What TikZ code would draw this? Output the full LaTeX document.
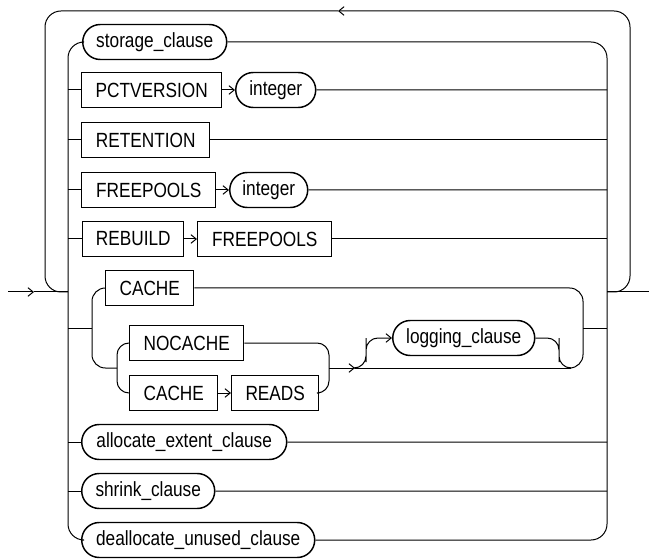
\documentclass[tikz,border=0pt]{standalone}
\usepackage{fontspec}
\setmainfont[FakeStretch=0.84]{Liberation Sans}
\usepackage{tikz}
\usetikzlibrary{arrows.meta, shapes.misc}
\newcommand{\railfont}{\fontsize{15.4}{17}\selectfont}

\begin{document}
\begin{tikzpicture}[
    x=0.75pt, y=-0.75pt,
    kw/.style={
        rectangle,
        draw=black,
        line width=1.1pt,
        inner sep=0pt,
        minimum height=26.25pt,
        anchor=west,
        font=\railfont
    },
    nt/.style={
        kw,
        rounded rectangle
    },
    rail/.style={line width=0.75pt},
    into/.style={-{Straight Barb[length=4pt, width=6.5pt]}}
]
\useasboundingbox (0,0) rectangle (649,559);

% ---------------- Entrada, saida e bucle ----------------
\coordinate (in) at (8,292);
\coordinate (inarr) at (34,292);
\coordinate (L) at (68,292);
\coordinate (R) at (607,292);
\coordinate (out) at (649,292);
\coordinate (loopr) at (630,11);
\coordinate (looparr) at (338,11);
\coordinate (loopl) at (45,11);

\draw[rail, into] (in) -- (inarr);
\draw[rail] (inarr) -- (L);
\draw[rail] (R) -- (out);
\draw[rail, into, rounded corners=12] (R) -| (loopr) -- (looparr);
\draw[rail, rounded corners=12] (looparr) -- (loopl) |- (L);

% ---------------- Opcions ----------------
\node[nt, minimum width=108pt] (stor) at (82,42) {storage\_clause};
\node[kw, minimum width=105pt] (pct) at (81,90) {PCTVERSION};
\node[nt, minimum width=60pt] (int1) at (235,90) {integer};
\node[kw, minimum width=96pt] (ret) at (81,140) {RETENTION};
\node[kw, minimum width=100.5pt] (fp) at (81,190) {FREEPOOLS};
\node[nt, minimum width=58.5pt] (int2) at (229,190) {integer};
\node[kw, minimum width=75.75pt] (reb) at (82,239) {REBUILD};
\node[kw, minimum width=100.5pt] (fp2) at (197,239) {FREEPOOLS};
\node[nt, minimum width=153.75pt] (alloc) at (81,442) {allocate\_extent\_clause};
\node[nt, minimum width=99.75pt] (shrink) at (81,491) {shrink\_clause};
\node[nt, minimum width=174.75pt] (dealloc) at (81,540) {deallocate\_unused\_clause};

\draw[rail, rounded corners=12] (stor.west) -| (L) |- (dealloc.west);
\draw[rail, rounded corners=12] (stor.east) -| (R) |- (dealloc.east);

\draw[rail] (L |- pct) -- (pct);
\draw[rail, into] (pct) -- (int1);
\draw[rail] (int1) -- (R |- int1);
\draw[rail] (L |- ret) -- (ret);
\draw[rail] (ret) -- (R |- ret);
\draw[rail] (L |- fp) -- (fp);
\draw[rail, into] (fp) -- (int2);
\draw[rail] (int2) -- (R |- int2);
\draw[rail] (L |- reb) -- (reb);
\draw[rail, into] (reb) -- (fp2);
\draw[rail] (fp2) -- (R |- fp2);
\draw[rail] (L |- alloc) -- (alloc);
\draw[rail] (alloc) -- (R |- alloc);
\draw[rail] (L |- shrink) -- (shrink);
\draw[rail] (shrink) -- (R |- shrink);

% ---------------- CACHE ----------------
\node[kw, minimum width=66pt] (cache1) at (105,288) {CACHE};
\node[kw, minimum width=85.5pt] (nocache) at (129,343) {NOCACHE};
\node[kw, minimum width=66pt] (cache2) at (129,393) {CACHE};
\node[kw, minimum width=65.25pt] (reads) at (231,393) {READS};
\node[nt, minimum width=106.5pt] (logging) at (392,338) {logging\_clause};

\coordinate (cl) at (92,329);
\coordinate (cr) at (583,329);
\coordinate (nl) at (117,368);
\coordinate (nr) at (329,368);
\coordinate (ll) at (355,368);
\coordinate (lr) at (571,368);
\coordinate (lu) at (366,350);
\coordinate (ld) at (559,350);

\draw[rail] (L |- cl) -- (cl);
\draw[rail] (cr) -- (R |- cr);
\draw[rail, rounded corners=10] (cache1.west) -| (cl) |- (nl);
\draw[rail, rounded corners=9] (nocache.west) -| (nl) |- (cache2.west);
\draw[rail, into] (cache2) -- (reads);
\draw[rail, rounded corners=9] (nocache.east) -| (nr) |- (reads.east);
\draw[rail, into] (nr) -- (ll);
\draw[rail] (ll) -- (lr);
\draw[rail, rounded corners=10] (lr) -| (cr) |- (cache1.east);
\draw[rail, into, rounded corners=9] (ll) -| (lu) |- (logging.west);
\draw[rail, rounded corners=9] (logging.east) -| (ld) |- (lr);

\end{tikzpicture}
\end{document}
